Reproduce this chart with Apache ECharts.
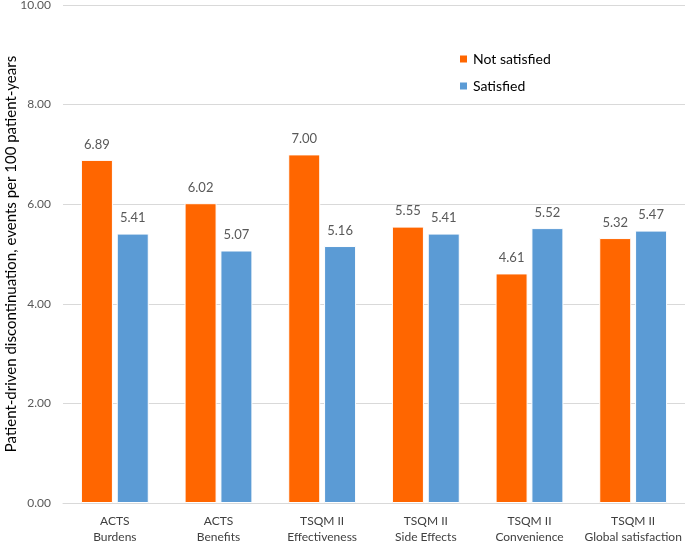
<!DOCTYPE html>
<html><head><meta charset="utf-8">
<script src="https://cdn.jsdelivr.net/npm/echarts@6/dist/echarts.min.js"></script>
<style>html,body{margin:0;padding:0;background:#fff}#c{width:685px;height:541px}</style>
</head><body><div id="c"></div>
<script>
const categories = ["ACTS\nBurdens","ACTS\nBenefits","TSQM II\nEffectiveness","TSQM II\nSide Effects","TSQM II\nConvenience","TSQM II\nGlobal satisfaction"];
const notSatisfied = [6.89, 6.02, 7.00, 5.55, 4.61, 5.32];
const satisfied = [5.41, 5.07, 5.16, 5.41, 5.52, 5.47];
const yTicks = {min: 0, max: 10, interval: 2};

const chart = echarts.init(document.getElementById('c'));
const FONT = 'Lato';
const labelStyle = {show: true, position: 'top', distance: 9, color: '#595959', fontSize: 13, fontFamily: FONT, formatter: p => p.value.toFixed(2)};
chart.setOption({
  animation: false,
  textStyle: {fontFamily: FONT},
  grid: {left: 63, right: 0, top: 5, bottom: 38, containLabel: false, outerBoundsMode: 'none'},
  legend: {
    orient: 'vertical', left: 458, top: 52, padding: 0, itemWidth: 9, itemHeight: 9, itemGap: 13,
    textStyle: {fontSize: 14, color: '#000', fontFamily: FONT},
    data: [{name: 'Not satisfied', icon: 'rect'}, {name: 'Satisfied', icon: 'rect'}]
  },
  xAxis: {
    type: 'category', data: categories,
    axisLine: {lineStyle: {color: '#d9d9d9', width: 1}},
    axisTick: {show: false},
    axisLabel: {color: '#404040', fontSize: 12, fontFamily: FONT, lineHeight: 16, margin: 10, interval: 0}
  },
  yAxis: {
    type: 'value', min: yTicks.min, max: yTicks.max, interval: yTicks.interval,
    name: 'Patient-driven discontinuation, events per 100 patient-years',
    nameLocation: 'middle', nameGap: 44, nameMoveOverlap: false,
    nameTextStyle: {fontSize: 15, color: '#000', fontFamily: FONT},
    axisLine: {show: false}, axisTick: {show: false},
    axisLabel: {color: '#595959', fontSize: 12, fontFamily: FONT, formatter: v => v.toFixed(2), margin: 12},
    splitLine: {lineStyle: {color: '#d9d9d9', width: 1}}
  },
  series: [
    {name: 'Not satisfied', type: 'bar', data: notSatisfied, barWidth: 32, barGap: '12%',
     itemStyle: {color: '#FF6600', borderColor: '#fff', borderWidth: 1}, label: labelStyle},
    {name: 'Satisfied', type: 'bar', data: satisfied, barWidth: 32,
     itemStyle: {color: '#5B9BD5', borderColor: '#fff', borderWidth: 1}, label: labelStyle}
  ]
});
</script></body></html>
